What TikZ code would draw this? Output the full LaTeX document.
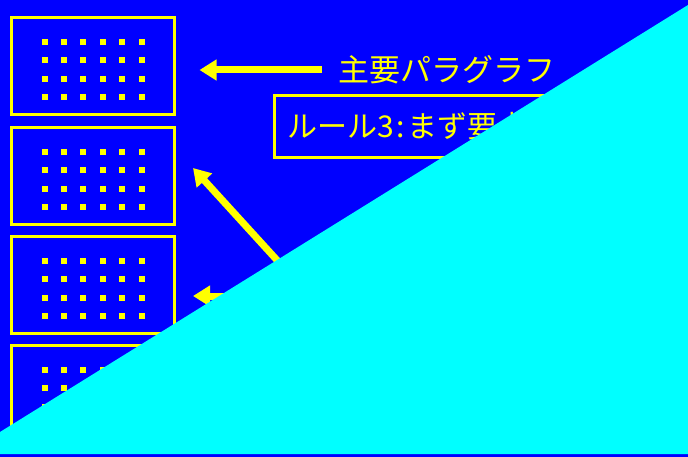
\documentclass[tikz,border=0pt]{standalone}
\usepackage{fontspec}
\setmainfont{Noto Sans CJK JP}
\usetikzlibrary{arrows.meta}
\definecolor{slideblue}{HTML}{0000FF}
\definecolor{slideyellow}{HTML}{FFFF00}
\definecolor{slidecyan}{HTML}{00FFFF}
\begin{document}
\begin{tikzpicture}[x=1pt, y=-1pt,
        para/.style={draw=slideyellow, line width=3pt, minimum width=163pt, minimum height=97pt, inner sep=0pt},
        dot/.style={fill=slideyellow, minimum size=6pt, inner sep=0pt},
        bigarrow/.style={draw=slideyellow, line width=7pt, -{Triangle[length=17pt,width=20pt]}},
        yeltext/.style={text=slideyellow, font=\fontsize{30pt}{30pt}\selectfont}]
                \fill[slideblue] (0,0) rectangle (688,457);
                \useasboundingbox (0,0) rectangle (688,457);

                % paragraphs with dots
                \foreach \b/\y in {1/66, 2/176, 3/285, 4/394} {
                    \node [para] (P\b) at (93,\y) {};
                    \foreach \i in {0,...,5}
                        \foreach \j in {0,...,3}
                            \node [dot] (D\b\i\j) at ({93+(\i-2.5)*19.4}, {\y+3.5+(\j-1.5)*18.3}) {};
                }

                \node [yeltext, anchor=west, font=\fontsize{31pt}{31pt}\selectfont] (title) at (335,70) {主要パラグラフ};
                \node [yeltext, draw=slideyellow, line width=3pt, anchor=west, minimum height=62pt, inner xsep=13pt] (rule) at (272.5,126.5) {ルール3\kern3pt:\kern3pt まず要点を述べる};

                \coordinate (tip2) at (193,168);
                \coordinate (src2) at (327,315);
                \coordinate (tip3) at (193,296);
                \coordinate (src3) at (300,296);

                \draw [bigarrow, shorten <=13pt, shorten >=23.5pt] (title.west) -- (title.west -| P1.east);
                \draw [bigarrow] (src2) -- (tip2);
                \draw [bigarrow] (src3) -- (tip3);

                \fill[slidecyan] (0,432) -- (688,5) -- (688,454) -- (0,454) -- cycle;
            \end{tikzpicture}
\end{document}
